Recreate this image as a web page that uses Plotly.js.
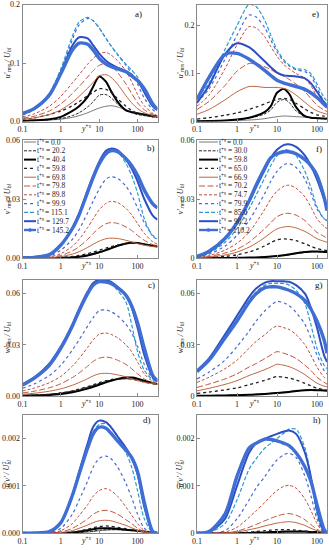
<!DOCTYPE html>
<html><head><meta charset="utf-8">
<script src="https://cdn.plot.ly/plotly-3.0.1.min.js"></script>
<style>html,body{margin:0;padding:0;background:#fff;}#chart{width:329px;height:550px;}</style>
</head><body><div id="chart"></div>
<script>
// wall distance grids
const yPlusL = [0.1,0.2,0.5,1,2,3,5,7,10,15,20,30,50,70,100,150,250,330];
const yPlusR = [0.1,0.2,0.5,1,2,3,5,7,10,15,20,30,50,70,100,150,178];
const timesL = ['0.0','20.2','40.4','59.8','69.8','79.8','89.8','99.9','115.1','129.7','145.2'];
const timesR = ['0.0','30.0','59.8','65.0','66.9','70.2','74.7','79.9','85.0','90.2','110.2'];

// a) u'rms (left case)
const uA = [
 [0.0008,0.0012,0.0025,0.004,0.007,0.010,0.015,0.019,0.023,0.026,0.027,0.025,0.020,0.017,0.014,0.011,0.008,0.007],
 [0.001,0.0015,0.003,0.005,0.010,0.015,0.025,0.034,0.045,0.046,0.041,0.030,0.019,0.015,0.012,0.010,0.008,0.007],
 [0.001,0.002,0.004,0.008,0.018,0.026,0.042,0.060,0.077,0.068,0.053,0.034,0.019,0.016,0.014,0.012,0.010,0.009],
 [0.004,0.006,0.012,0.018,0.027,0.034,0.044,0.050,0.056,0.055,0.050,0.039,0.026,0.019,0.014,0.011,0.008,0.007],
 [0.004,0.006,0.012,0.020,0.033,0.043,0.057,0.067,0.078,0.080,0.076,0.064,0.044,0.032,0.022,0.015,0.010,0.008],
 [0.006,0.009,0.018,0.030,0.048,0.060,0.076,0.087,0.096,0.099,0.096,0.084,0.064,0.048,0.032,0.020,0.012,0.009],
 [0.008,0.013,0.026,0.043,0.066,0.080,0.098,0.108,0.116,0.118,0.114,0.104,0.086,0.068,0.046,0.027,0.014,0.010],
 [0.011,0.020,0.045,0.085,0.140,0.165,0.176,0.172,0.160,0.142,0.130,0.114,0.096,0.082,0.064,0.040,0.020,0.015],
 [0.012,0.021,0.048,0.090,0.146,0.170,0.178,0.172,0.160,0.142,0.130,0.115,0.098,0.088,0.076,0.052,0.025,0.018],
 [0.013,0.021,0.045,0.084,0.130,0.144,0.142,0.130,0.116,0.104,0.098,0.092,0.086,0.080,0.070,0.050,0.026,0.020],
 [0.014,0.022,0.045,0.082,0.122,0.134,0.132,0.122,0.108,0.098,0.094,0.090,0.085,0.078,0.070,0.056,0.030,0.021]
];
// b) v'rms (left case)
const vB = [
 [0,0,0,0.0001,0.0003,0.0006,0.0012,0.0018,0.0026,0.0038,0.0047,0.0060,0.0072,0.0076,0.0075,0.0070,0.0062,0.0058],
 [0,0,0,0.0001,0.0004,0.0008,0.0015,0.0022,0.0031,0.0043,0.0052,0.0064,0.0074,0.0077,0.0075,0.0070,0.0062,0.0058],
 [0,0,0,0.0001,0.0003,0.0006,0.0013,0.0020,0.0029,0.0040,0.0049,0.0062,0.0074,0.0078,0.0076,0.0070,0.0062,0.0058],
 [0,0,0.0001,0.0003,0.0008,0.0013,0.0022,0.0030,0.0040,0.0050,0.0057,0.0066,0.0074,0.0076,0.0074,0.0069,0.0062,0.0058],
 [0,0,0.0002,0.0007,0.0020,0.0032,0.0054,0.0070,0.0086,0.0098,0.0101,0.0099,0.0090,0.0082,0.0073,0.0065,0.0058,0.0056],
 [0,0.0001,0.0004,0.0013,0.0036,0.0058,0.0095,0.0125,0.0153,0.0174,0.0180,0.0176,0.0158,0.0140,0.0115,0.0090,0.0068,0.0062],
 [0,0.0001,0.0006,0.0022,0.0060,0.0095,0.0155,0.0200,0.0245,0.0278,0.0288,0.0282,0.0252,0.0220,0.0175,0.0125,0.0082,0.0070],
 [0.0001,0.0002,0.0010,0.0040,0.0095,0.0145,0.0230,0.0290,0.0350,0.0400,0.0413,0.0405,0.0365,0.0320,0.0255,0.0180,0.0115,0.0100],
 [0.0001,0.0003,0.0016,0.0062,0.0145,0.0215,0.0335,0.0410,0.0480,0.0535,0.0550,0.0540,0.0480,0.0420,0.0330,0.0200,0.0110,0.0095],
 [0.0001,0.0003,0.0017,0.0066,0.0152,0.0225,0.0345,0.0420,0.0490,0.0545,0.0556,0.0548,0.0500,0.0455,0.0390,0.0300,0.0215,0.0195],
 [0.0001,0.0003,0.0017,0.0066,0.0150,0.0220,0.0335,0.0410,0.0478,0.0530,0.0545,0.0540,0.0505,0.0470,0.0420,0.0345,0.0275,0.0255]
];
// c) w'rms (left case)
const wC = [
 [0.0003,0.0005,0.0010,0.0017,0.0029,0.0038,0.0052,0.0063,0.0074,0.0085,0.0091,0.0097,0.0100,0.0099,0.0094,0.0085,0.0074,0.0069],
 [0.0003,0.0005,0.0010,0.0017,0.0028,0.0037,0.0050,0.0061,0.0072,0.0084,0.0091,0.0099,0.0104,0.0103,0.0097,0.0086,0.0074,0.0069],
 [0.0002,0.0003,0.0006,0.0012,0.0022,0.0030,0.0043,0.0054,0.0066,0.0080,0.0089,0.0100,0.0108,0.0108,0.0102,0.0090,0.0076,0.0070],
 [0.0003,0.0005,0.0010,0.0018,0.0030,0.0040,0.0055,0.0066,0.0078,0.0090,0.0096,0.0101,0.0103,0.0100,0.0092,0.0082,0.0072,0.0068],
 [0.0010,0.0016,0.0028,0.0042,0.0063,0.0079,0.0102,0.0118,0.0130,0.0133,0.0131,0.0124,0.0112,0.0100,0.0090,0.0080,0.0072,0.0068],
 [0.0018,0.0028,0.0048,0.0072,0.0108,0.0135,0.0175,0.0203,0.0222,0.0228,0.0224,0.0210,0.0185,0.0160,0.0130,0.0100,0.0078,0.0072],
 [0.0030,0.0046,0.0078,0.0115,0.0175,0.0220,0.0285,0.0330,0.0362,0.0369,0.0362,0.0342,0.0300,0.0260,0.0200,0.0130,0.0085,0.0078],
 [0.0045,0.0070,0.0120,0.0180,0.0270,0.0330,0.0410,0.0460,0.0500,0.0505,0.0495,0.0470,0.0420,0.0370,0.0290,0.0185,0.0100,0.0085],
 [0.0066,0.0105,0.0185,0.0285,0.0415,0.0505,0.0605,0.0655,0.0675,0.0672,0.0660,0.0620,0.0550,0.0420,0.0260,0.0150,0.0095,0.0085],
 [0.0068,0.0108,0.0190,0.0290,0.0420,0.0510,0.0612,0.0662,0.0682,0.0680,0.0670,0.0640,0.0590,0.0520,0.0400,0.0240,0.0110,0.0085],
 [0.0065,0.0104,0.0180,0.0280,0.0410,0.0500,0.0600,0.0650,0.0670,0.0668,0.0660,0.0635,0.0590,0.0530,0.0430,0.0280,0.0120,0.0090]
];
// d) u'v' (left case)
const uvD = [
 [0,0,0,0,0,0.00001,0.00002,0.00003,0.00005,0.00006,0.00007,0.00007,0.00006,0.00005,0.00004,0.00003,0.00001,0],
 [0,0,0,0,0,0.00001,0.00003,0.00004,0.00006,0.00007,0.00007,0.00007,0.00006,0.00005,0.00004,0.00003,0.00001,0],
 [0,0,0,0,0.00001,0.00003,0.00006,0.00008,0.0001,0.0001,0.0001,0.00009,0.00007,0.00006,0.00005,0.00003,0.00001,0],
 [0,0,0,0,0.00002,0.00004,0.00008,0.00011,0.00014,0.00015,0.00014,0.00012,0.00009,0.00007,0.00005,0.00003,0.00001,0],
 [0,0,0,0.00001,0.00005,0.0001,0.00017,0.00022,0.00026,0.00027,0.00026,0.00022,0.00016,0.00011,0.00006,0.00002,0,0],
 [0,0,0,0.00002,0.0001,0.00018,0.0003,0.0004,0.00046,0.00048,0.00046,0.0004,0.00028,0.0002,0.0001,0.00003,0,0],
 [0,0,0,0.00005,0.0002,0.00037,0.0006,0.00078,0.0009,0.00094,0.0009,0.00078,0.00055,0.00038,0.0002,0.00005,0,0],
 [0,0,0.00001,0.0001,0.0004,0.0007,0.0011,0.0014,0.00158,0.00163,0.00158,0.0014,0.00105,0.00075,0.0004,0.0001,0,0],
 [0,0,0.00003,0.0002,0.00075,0.0012,0.0018,0.00215,0.0023,0.00232,0.00225,0.00205,0.0017,0.0014,0.0009,0.0003,0,0],
 [0,0,0.00003,0.00022,0.0008,0.0013,0.0019,0.00225,0.00238,0.00235,0.00225,0.00205,0.0018,0.0016,0.00125,0.00055,0.00002,0],
 [0,0,0.00003,0.00022,0.0008,0.00125,0.0018,0.0021,0.00224,0.00222,0.00212,0.00195,0.00175,0.0016,0.0013,0.00065,0.00003,0]
];
// e) u'rms (right case)
const uE = [
 [0.0002,0.0004,0.001,0.002,0.003,0.004,0.006,0.008,0.010,0.0115,0.011,0.010,0.009,0.008,0.007,0.006,0.006],
 [0.0005,0.001,0.002,0.004,0.007,0.010,0.016,0.024,0.040,0.046,0.040,0.022,0.010,0.008,0.007,0.006,0.006],
 [0.0005,0.001,0.002,0.004,0.008,0.012,0.020,0.032,0.060,0.068,0.058,0.030,0.011,0.008,0.007,0.006,0.006],
 [0.005,0.008,0.013,0.018,0.025,0.030,0.037,0.042,0.046,0.048,0.046,0.038,0.026,0.019,0.014,0.011,0.010],
 [0.015,0.025,0.045,0.062,0.073,0.073,0.071,0.071,0.071,0.069,0.065,0.055,0.040,0.030,0.022,0.017,0.015],
 [0.025,0.042,0.075,0.105,0.121,0.120,0.114,0.108,0.101,0.094,0.088,0.078,0.062,0.048,0.034,0.024,0.021],
 [0.032,0.055,0.110,0.160,0.198,0.195,0.176,0.156,0.136,0.118,0.110,0.100,0.090,0.075,0.052,0.032,0.028],
 [0.040,0.068,0.130,0.180,0.222,0.218,0.195,0.170,0.145,0.125,0.116,0.108,0.104,0.095,0.070,0.042,0.036],
 [0.050,0.080,0.150,0.200,0.244,0.240,0.210,0.180,0.150,0.128,0.118,0.110,0.108,0.100,0.078,0.050,0.042],
 [0.039,0.075,0.140,0.163,0.155,0.143,0.125,0.113,0.102,0.096,0.095,0.094,0.090,0.080,0.062,0.040,0.034],
 [0.046,0.092,0.140,0.142,0.130,0.120,0.106,0.096,0.086,0.080,0.077,0.073,0.067,0.060,0.050,0.036,0.030]
];
// f) v'rms (right case)
const vF = [
 [0,0,0,0.0001,0.0002,0.0003,0.0005,0.0007,0.0009,0.0013,0.0016,0.0022,0.0028,0.0031,0.0032,0.0030,0.0029],
 [0,0,0,0.0001,0.0002,0.0003,0.0005,0.0007,0.0010,0.0014,0.0017,0.0023,0.0029,0.0032,0.0032,0.0030,0.0029],
 [0,0,0,0.0001,0.0002,0.0003,0.0005,0.0007,0.0010,0.0014,0.0018,0.0024,0.0030,0.0033,0.0033,0.0031,0.0030],
 [0.0001,0.0003,0.0008,0.0016,0.003,0.0042,0.0062,0.0078,0.0092,0.0097,0.0095,0.0088,0.0072,0.0060,0.0048,0.0040,0.0038],
 [0.0001,0.0005,0.0015,0.003,0.0055,0.0075,0.0105,0.0128,0.0148,0.0158,0.016,0.0153,0.0135,0.0118,0.0098,0.0085,0.0080],
 [0.0002,0.0008,0.0025,0.0045,0.008,0.011,0.015,0.018,0.021,0.0225,0.0227,0.0218,0.019,0.016,0.013,0.011,0.010],
 [0.0003,0.0012,0.004,0.0075,0.013,0.018,0.025,0.030,0.034,0.0365,0.037,0.0355,0.031,0.026,0.020,0.016,0.015],
 [0.0004,0.002,0.006,0.0115,0.019,0.025,0.033,0.039,0.044,0.0475,0.048,0.046,0.040,0.033,0.025,0.020,0.019],
 [0.0005,0.0025,0.008,0.015,0.025,0.032,0.041,0.047,0.052,0.055,0.0548,0.052,0.044,0.036,0.026,0.020,0.019],
 [0.0006,0.003,0.0095,0.0175,0.0285,0.036,0.045,0.051,0.055,0.0575,0.0578,0.0565,0.052,0.047,0.040,0.030,0.026],
 [0.0008,0.0035,0.010,0.018,0.029,0.037,0.046,0.051,0.053,0.054,0.054,0.053,0.050,0.047,0.042,0.031,0.024]
];
// g) w'rms (right case)
const wG = [
 [0.0001,0.0002,0.0003,0.0005,0.0008,0.001,0.0013,0.0016,0.0019,0.0023,0.0026,0.003,0.0034,0.0035,0.0034,0.0032,0.0031],
 [0.0001,0.0002,0.0003,0.0005,0.0008,0.001,0.0013,0.0015,0.0018,0.0022,0.0025,0.003,0.0034,0.0035,0.0034,0.0032,0.0031],
 [0.0001,0.0002,0.0003,0.0005,0.0007,0.0009,0.0012,0.0014,0.0017,0.0021,0.0024,0.0029,0.0034,0.0035,0.0034,0.0032,0.0031],
 [0.0015,0.0023,0.0036,0.0048,0.0066,0.0077,0.0092,0.0103,0.0114,0.011,0.0105,0.0094,0.0074,0.006,0.0046,0.0037,0.0035],
 [0.003,0.0045,0.0068,0.009,0.012,0.0135,0.0155,0.017,0.0186,0.018,0.0172,0.0155,0.0125,0.010,0.0075,0.0058,0.0054],
 [0.005,0.007,0.010,0.013,0.017,0.019,0.022,0.024,0.026,0.025,0.024,0.022,0.018,0.015,0.011,0.008,0.007],
 [0.008,0.011,0.016,0.021,0.028,0.032,0.036,0.039,0.041,0.040,0.039,0.036,0.030,0.024,0.017,0.011,0.010],
 [0.010,0.014,0.021,0.029,0.038,0.044,0.050,0.053,0.0555,0.0545,0.053,0.049,0.042,0.034,0.024,0.015,0.013],
 [0.0145,0.0210,0.034,0.045,0.056,0.061,0.065,0.066,0.066,0.066,0.065,0.062,0.054,0.042,0.028,0.018,0.016],
 [0.0150,0.022,0.036,0.047,0.058,0.063,0.0665,0.0673,0.0673,0.0672,0.067,0.065,0.060,0.052,0.040,0.024,0.020],
 [0.0143,0.021,0.034,0.044,0.055,0.060,0.0635,0.064,0.064,0.063,0.062,0.060,0.056,0.051,0.044,0.033,0.025]
];
// h) u'v' (right case)
const uvH = [
 [0,0,0,0,0,0,0.00001,0.00001,0.00001,0.00002,0.00002,0.00002,0.00002,0.00002,0.00001,0.00001,0],
 [0,0,0,0,0,0,0.00001,0.00001,0.00002,0.00002,0.00003,0.00003,0.00003,0.00002,0.00002,0.00001,0],
 [0,0,0,0,0,0.00001,0.00001,0.00002,0.00002,0.00003,0.00003,0.00003,0.00003,0.00002,0.00002,0.00001,0],
 [0,0,0,0,0.00002,0.00003,0.00005,0.00006,0.00007,0.00007,0.00007,0.00006,0.00004,0.00003,0.00002,0,0],
 [0,0,0,0.00002,0.00007,0.0001,0.00015,0.00018,0.00021,0.00023,0.00024,0.00022,0.00016,0.0001,0.00005,0,0],
 [0,0,0,0.00004,0.00012,0.00018,0.00026,0.00031,0.00036,0.0004,0.00041,0.00038,0.00028,0.00018,0.00008,0,0],
 [0,0,0.00002,0.00012,0.00033,0.00047,0.00065,0.00078,0.0009,0.00099,0.00101,0.00095,0.00072,0.00048,0.0002,0,0],
 [0,0,0.00005,0.0003,0.0007,0.00095,0.0012,0.00138,0.00155,0.00166,0.00169,0.0016,0.0012,0.0008,0.0003,0,0],
 [0,0.00001,0.0002,0.0007,0.00135,0.00157,0.0018,0.0019,0.002,0.00212,0.0022,0.0022,0.0018,0.0012,0.0004,0,0],
 [0,0.00002,0.0003,0.001,0.0017,0.0019,0.002,0.00205,0.0021,0.00215,0.00217,0.0021,0.0017,0.0012,0.0005,0.00002,0],
 [0,0.00003,0.0004,0.0012,0.0018,0.0019,0.00199,0.00198,0.00195,0.0019,0.00185,0.0017,0.0014,0.0011,0.0006,0.00008,0]
];

const STY = [
 {c:'#555555', w:0.8, d:'solid'},
 {c:'#111111', w:0.9, d:'3px,1.5px'},
 {c:'#000000', w:2.0, d:'solid'},
 {c:'#222222', w:1.3, d:'dot'},
 {c:'#c0653f', w:1.0, d:'solid'},
 {c:'#c2563f', w:1.0, d:'6px,2.5px'},
 {c:'#c24a3c', w:1.0, d:'3px,2px'},
 {c:'#4a68d8', w:1.2, d:'dot'},
 {c:'#2a9bd2', w:1.2, d:'4px,2px'},
 {c:'#2c4fc4', w:2.0, d:'solid'},
 {c:'#3f6fd4', w:3.4, d:'solid'}
];

const W = 329, H = 550;
const colX = [[22.5,157.5],[197,327]];
const rowY = [[4.5,121.5],[140,258],[280,396],[415,533]];
const xRange = [[-1,2.52],[-1,2.25]];

const SUBS = 5.6;
const titleU = [{t:"u'",s:8,it:1},{t:'rms',s:SUBS,it:1,dy:2},{g:2},{t:'/',s:8,it:1},{g:2},{t:'U',s:8,it:1},{t:'bl',s:SUBS,it:1,dy:2}];
const titleV = [{t:"v'",s:8,it:1},{t:'rms',s:SUBS,it:1,dy:2},{g:2},{t:'/',s:8,it:1},{g:2},{t:'U',s:8,it:1},{t:'bl',s:SUBS,it:1,dy:2}];
const titleW = [{t:"w'",s:8,it:1},{t:'rms',s:SUBS,it:1,dy:2},{g:2},{t:'/',s:8,it:1},{g:2},{t:'U',s:8,it:1},{t:'bl',s:SUBS,it:1,dy:2}];
const titleUV = [{t:"u'v'",s:8,it:1},{g:2},{t:'/',s:8,it:1},{g:2},{t:'U',s:8,it:1},{t:'2',s:SUBS,it:0,dy:-3,na:1},{t:'bl',s:SUBS,it:1,dy:2}];

const panels = [
 {d:uA, col:0,row:0, yr:[0,0.2], tv:[0,0.1,0.2], tt:['0.0','0.1','0.2'], lab:'a)', lx:138, ly:14, yt:titleU},
 {d:vB, col:0,row:1, yr:[0,0.06], tv:[0,0.03,0.06], tt:['0.00','0.03','0.06'], lab:'b)', lx:151, ly:148, yt:titleV},
 {d:wC, col:0,row:2, yr:[0,0.068], tv:[0,0.03,0.06], tt:['0.00','0.03','0.06'], lab:'c)', lx:151, ly:285, yt:titleW},
 {d:uvD, col:0,row:3, yr:[0,0.0025], tv:[0,0.001,0.002], tt:['0.000','0.001','0.002'], lab:'d)', lx:147, ly:420, yt:titleUV},
 {d:uE, col:1,row:0, yr:[0,0.244], tv:[0,0.1,0.2], tt:['0','0.1','0.2'], lab:'e)', lx:315, ly:14, yt:titleU},
 {d:vF, col:1,row:1, yr:[0,0.06], tv:[0,0.03,0.06], tt:['0','0.03','0.06'], lab:'f)', lx:319, ly:149, yt:titleV},
 {d:wG, col:1,row:2, yr:[0,0.068], tv:[0,0.03,0.06], tt:['0','0.03','0.06'], lab:'g)', lx:319, ly:285, yt:titleW},
 {d:uvH, col:1,row:3, yr:[0,0.0025], tv:[0,0.001,0.002], tt:['0','0.001','0.002'], lab:'h)', lx:317, ly:420, yt:titleUV}
];

const FONT = 'Liberation Serif, Times New Roman, serif';
const px2x = p => p / W;
const py2y = p => 1 - p / H;

const traces = [];
const layout = {
  width: W, height: H, margin:{l:0,r:0,t:0,b:0},
  paper_bgcolor:'#fff', plot_bgcolor:'#fff', showlegend:false,
  font:{family:FONT, size:8, color:'#222'},
  annotations:[], shapes:[]
};

// text measuring for composed rich labels (sub/superscripts as separate texts)
const cv = document.createElement('canvas').getContext('2d');
function tw(t, s, it) { cv.font = (it ? 'italic ' : '') + s + 'px "Liberation Serif"'; return cv.measureText(t).width; }
function rich(segs, x0, y0, rot, center) {
  const ws = segs.map(g => g.g !== undefined ? g.g : (g.na ? 0 : tw(g.t, g.s, g.it)));
  const total = ws.reduce((a, b) => a + b, 0);
  let off = center ? -total / 2 : 0;
  segs.forEach((g, i) => {
    if (g.g === undefined) {
      const w = tw(g.t, g.s, g.it);
      const c = off + w / 2;
      const dy = g.dy || 0;
      const x = rot ? x0 + dy : x0 + c;
      const y = rot ? y0 - c : y0 + dy;
      layout.annotations.push({text:g.t, xref:'paper', yref:'paper', x:px2x(x), y:py2y(y), showarrow:false,
        xanchor:'center', yanchor:'middle', textangle: rot ? -90 : 0,
        font:{family:FONT, size:g.s, color:'#222', style: g.it ? 'italic' : 'normal'}});
    }
    off += ws[i];
  });
}

panels.forEach((p, i) => {
  const s = i === 0 ? '' : String(i + 1);
  const xs = p.col === 0 ? yPlusL : yPlusR;
  p.d.forEach((vals, k) => {
    const st = STY[k];
    traces.push({
      x: xs, y: vals, xaxis:'x'+s, yaxis:'y'+s, type:'scatter', mode:'lines',
      line:{color:st.c, width:st.w, dash:st.d, shape:'spline', smoothing:0.8},
      hoverinfo:'skip', showlegend:false
    });
  });
  const cx = colX[p.col], ry = rowY[p.row];
  const axCommon = {showline:true, mirror:true, linecolor:'#8a8a8a', linewidth:1, showgrid:false, zeroline:false,
    ticks:'inside', ticklen:3, tickcolor:'#8a8a8a', tickfont:{family:FONT, size:8, color:'#222'}, fixedrange:true};
  layout['xaxis'+s] = Object.assign({}, axCommon, {
    type:'log', range:xRange[p.col], domain:[px2x(cx[0]), px2x(cx[1])], anchor:'y'+s,
    tickvals:[0.1,1,10,100], ticktext:['0.1','1','10','100']
  });
  layout['yaxis'+s] = Object.assign({}, axCommon, {
    range:p.yr, domain:[py2y(ry[1]), py2y(ry[0])], anchor:'x'+s,
    tickvals:p.tv, ticktext:p.tt
  });
  // panel label
  layout.annotations.push({text:p.lab, xref:'paper', yref:'paper', x:px2x(p.lx), y:py2y(p.ly),
    showarrow:false, font:{family:FONT, size:9, color:'#111'}, xanchor:'center', yanchor:'middle'});
  // x title  y^{+s}
  const xt = p.col === 0 ? 86 : 254;
  rich([{t:'y',s:8,it:1},{t:'+s',s:SUBS,it:1,dy:-2.5}], xt, ry[1] + 7, false, true);
  // y title (rotated)
  const ytx = p.col === 0 ? 7 : 180;
  rich(p.yt, ytx, (ry[0] + ry[1]) / 2, true, true);
});

// legends (panel b and f)
function addLegend(labels, x0, x1, tx, y0, dy) {
  labels.forEach((lab, k) => {
    const st = STY[k];
    const y = y0 + k * dy;
    layout.shapes.push({type:'line', xref:'paper', yref:'paper', x0:px2x(x0), x1:px2x(x1), y0:py2y(y), y1:py2y(y),
      line:{color:st.c, width:Math.min(st.w, 2.4), dash:st.d}});
    if (k === labels.length - 1) {
      const xm = (x0 + x1) / 2;
      layout.shapes.push({type:'circle', xref:'paper', yref:'paper', x0:px2x(xm-1.6), x1:px2x(xm+1.6), y0:py2y(y+1.6), y1:py2y(y-1.6),
        fillcolor:st.c, line:{color:st.c, width:0.5}});
    }
    rich([{t:'t',s:7.5,it:0},{t:'+s',s:5.2,it:0,dy:-2.3},{g:1.5},{t:'= ' + lab,s:7.5,it:0}], tx, y, false, false);
  });
}
addLegend(timesL, 24, 36, 37, 142, 8.8);
addLegend(timesR, 199, 218, 219, 142, 8.8);

Plotly.newPlot('chart', traces, layout, {staticPlot:true, displayModeBar:false});
</script>
</body></html>
